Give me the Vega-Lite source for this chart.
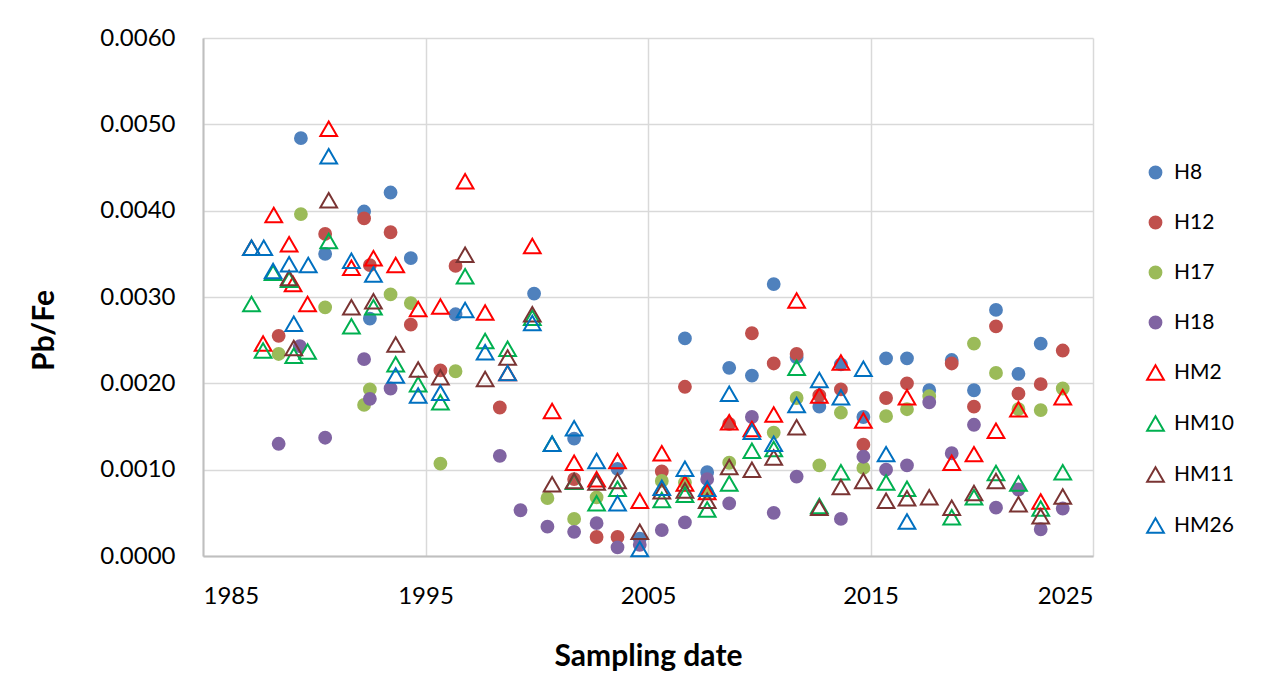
{
  "$schema": "https://vega.github.io/schema/vega-lite/v6.json",
  "width": 890,
  "height": 518,
  "autosize": {"type": "none"},
  "padding": {"left": 203, "top": 38, "right": 173, "bottom": 130},
  "background": "white",
  "config": {"font": "Lato", "view": {"stroke": null}},
  "datasets": {
    "pts": [
      {"series":"H8","date":1989.4,"value":0.00484},{"series":"H8","date":1990.49,"value":0.0035},{"series":"H8","date":1992.24,"value":0.00399},{"series":"H8","date":1992.5,"value":0.00275},{"series":"H8","date":1993.43,"value":0.00421},{"series":"H8","date":1994.34,"value":0.00345},{"series":"H8","date":1996.35,"value":0.0028},{"series":"H8","date":1999.88,"value":0.00304},{"series":"H8","date":2001.68,"value":0.00136},{"series":"H8","date":2003.63,"value":0.00101},{"series":"H8","date":2004.63,"value":0.0002},{"series":"H8","date":2006.66,"value":0.00252},{"series":"H8","date":2007.66,"value":0.00097},{"series":"H8","date":2008.65,"value":0.00218},{"series":"H8","date":2009.67,"value":0.00209},{"series":"H8","date":2010.65,"value":0.00315},{"series":"H8","date":2011.68,"value":0.0023},{"series":"H8","date":2012.7,"value":0.00173},{"series":"H8","date":2013.67,"value":0.00222},{"series":"H8","date":2014.68,"value":0.00161},{"series":"H8","date":2015.7,"value":0.00229},{"series":"H8","date":2016.64,"value":0.00229},{"series":"H8","date":2017.64,"value":0.00192},{"series":"H8","date":2018.65,"value":0.00227},{"series":"H8","date":2019.65,"value":0.00192},{"series":"H8","date":2020.64,"value":0.00285},{"series":"H8","date":2021.65,"value":0.00211},{"series":"H8","date":2022.65,"value":0.00246},
      {"series":"H12","date":1988.4,"value":0.00255},{"series":"H12","date":1990.49,"value":0.00373},{"series":"H12","date":1992.24,"value":0.00391},{"series":"H12","date":1992.5,"value":0.00337},{"series":"H12","date":1993.43,"value":0.00375},{"series":"H12","date":1994.34,"value":0.00268},{"series":"H12","date":1995.67,"value":0.00215},{"series":"H12","date":1996.35,"value":0.00336},{"series":"H12","date":1998.34,"value":0.00172},{"series":"H12","date":2001.68,"value":0.00089},{"series":"H12","date":2002.69,"value":0.00022},{"series":"H12","date":2003.63,"value":0.00022},{"series":"H12","date":2005.62,"value":0.00098},{"series":"H12","date":2006.66,"value":0.00196},{"series":"H12","date":2008.65,"value":0.00153},{"series":"H12","date":2009.67,"value":0.00258},{"series":"H12","date":2010.65,"value":0.00223},{"series":"H12","date":2011.68,"value":0.00234},{"series":"H12","date":2012.7,"value":0.00186},{"series":"H12","date":2013.67,"value":0.00193},{"series":"H12","date":2014.68,"value":0.00129},{"series":"H12","date":2015.7,"value":0.00183},{"series":"H12","date":2016.64,"value":0.002},{"series":"H12","date":2018.65,"value":0.00223},{"series":"H12","date":2019.65,"value":0.00173},{"series":"H12","date":2020.64,"value":0.00266},{"series":"H12","date":2021.65,"value":0.00188},{"series":"H12","date":2022.65,"value":0.00199},{"series":"H12","date":2023.64,"value":0.00238},
      {"series":"H17","date":1988.4,"value":0.00234},{"series":"H17","date":1989.4,"value":0.00396},{"series":"H17","date":1990.49,"value":0.00288},{"series":"H17","date":1992.24,"value":0.00175},{"series":"H17","date":1992.5,"value":0.00193},{"series":"H17","date":1993.43,"value":0.00303},{"series":"H17","date":1994.34,"value":0.00293},{"series":"H17","date":1995.67,"value":0.00107},{"series":"H17","date":1996.35,"value":0.00214},{"series":"H17","date":2000.48,"value":0.00067},{"series":"H17","date":2001.68,"value":0.00043},{"series":"H17","date":2002.69,"value":0.00068},{"series":"H17","date":2005.62,"value":0.00087},{"series":"H17","date":2006.66,"value":0.00085},{"series":"H17","date":2007.66,"value":0.00074},{"series":"H17","date":2008.65,"value":0.00108},{"series":"H17","date":2010.65,"value":0.00143},{"series":"H17","date":2011.68,"value":0.00183},{"series":"H17","date":2012.7,"value":0.00105},{"series":"H17","date":2013.67,"value":0.00166},{"series":"H17","date":2014.68,"value":0.00102},{"series":"H17","date":2015.7,"value":0.00162},{"series":"H17","date":2016.64,"value":0.0017},{"series":"H17","date":2017.64,"value":0.00185},{"series":"H17","date":2019.65,"value":0.00246},{"series":"H17","date":2020.64,"value":0.00212},{"series":"H17","date":2021.65,"value":0.0017},{"series":"H17","date":2022.65,"value":0.00169},{"series":"H17","date":2023.64,"value":0.00194},
      {"series":"H18","date":1988.4,"value":0.0013},{"series":"H18","date":1989.35,"value":0.00243},{"series":"H18","date":1990.49,"value":0.00137},{"series":"H18","date":1992.24,"value":0.00228},{"series":"H18","date":1992.5,"value":0.00182},{"series":"H18","date":1993.43,"value":0.00194},{"series":"H18","date":1998.34,"value":0.00116},{"series":"H18","date":1999.27,"value":0.00053},{"series":"H18","date":2000.48,"value":0.00034},{"series":"H18","date":2001.68,"value":0.00028},{"series":"H18","date":2002.69,"value":0.00038},{"series":"H18","date":2003.63,"value":0.0001},{"series":"H18","date":2004.63,"value":0.00013},{"series":"H18","date":2005.62,"value":0.0003},{"series":"H18","date":2006.66,"value":0.00039},{"series":"H18","date":2007.66,"value":0.00089},{"series":"H18","date":2008.65,"value":0.00061},{"series":"H18","date":2009.67,"value":0.00161},{"series":"H18","date":2010.65,"value":0.0005},{"series":"H18","date":2011.68,"value":0.00092},{"series":"H18","date":2013.67,"value":0.00043},{"series":"H18","date":2014.68,"value":0.00115},{"series":"H18","date":2015.7,"value":0.001},{"series":"H18","date":2016.64,"value":0.00105},{"series":"H18","date":2017.64,"value":0.00178},{"series":"H18","date":2018.65,"value":0.00119},{"series":"H18","date":2019.65,"value":0.00152},{"series":"H18","date":2020.64,"value":0.00056},{"series":"H18","date":2021.65,"value":0.00077},{"series":"H18","date":2022.65,"value":0.00031},{"series":"H18","date":2023.64,"value":0.00055},
      {"series":"HM2","date":1987.7,"value":0.00246},{"series":"HM2","date":1988.18,"value":0.00395},{"series":"HM2","date":1988.87,"value":0.00361},{"series":"HM2","date":1989.05,"value":0.00315},{"series":"HM2","date":1989.7,"value":0.00292},{"series":"HM2","date":1990.65,"value":0.00495},{"series":"HM2","date":1991.67,"value":0.00334},{"series":"HM2","date":1992.66,"value":0.00345},{"series":"HM2","date":1993.66,"value":0.00337},{"series":"HM2","date":1994.67,"value":0.00286},{"series":"HM2","date":1995.67,"value":0.00289},{"series":"HM2","date":1996.78,"value":0.00434},{"series":"HM2","date":1997.68,"value":0.00282},{"series":"HM2","date":1998.69,"value":0.00212},{"series":"HM2","date":1999.8,"value":0.00359},{"series":"HM2","date":2000.69,"value":0.00168},{"series":"HM2","date":2001.68,"value":0.00108},{"series":"HM2","date":2002.69,"value":0.00089},{"series":"HM2","date":2003.63,"value":0.0011},{"series":"HM2","date":2004.63,"value":0.00064},{"series":"HM2","date":2005.62,"value":0.00119},{"series":"HM2","date":2006.66,"value":0.00084},{"series":"HM2","date":2007.66,"value":0.00074},{"series":"HM2","date":2008.65,"value":0.00155},{"series":"HM2","date":2009.67,"value":0.00147},{"series":"HM2","date":2010.65,"value":0.00164},{"series":"HM2","date":2011.68,"value":0.00296},{"series":"HM2","date":2012.7,"value":0.00186},{"series":"HM2","date":2013.67,"value":0.00224},{"series":"HM2","date":2014.68,"value":0.00157},{"series":"HM2","date":2016.64,"value":0.00184},{"series":"HM2","date":2018.65,"value":0.00108},{"series":"HM2","date":2019.65,"value":0.00118},{"series":"HM2","date":2020.64,"value":0.00145},{"series":"HM2","date":2021.65,"value":0.0017},{"series":"HM2","date":2022.65,"value":0.00063},{"series":"HM2","date":2023.64,"value":0.00184},
      {"series":"HM10","date":1987.18,"value":0.00292},{"series":"HM10","date":1987.7,"value":0.00238},{"series":"HM10","date":1988.15,"value":0.00328},{"series":"HM10","date":1988.87,"value":0.0032},{"series":"HM10","date":1989.08,"value":0.00232},{"series":"HM10","date":1989.7,"value":0.00237},{"series":"HM10","date":1990.65,"value":0.00365},{"series":"HM10","date":1991.67,"value":0.00266},{"series":"HM10","date":1992.66,"value":0.00288},{"series":"HM10","date":1993.66,"value":0.00222},{"series":"HM10","date":1994.67,"value":0.00199},{"series":"HM10","date":1995.67,"value":0.00178},{"series":"HM10","date":1996.78,"value":0.00324},{"series":"HM10","date":1997.68,"value":0.00249},{"series":"HM10","date":1998.69,"value":0.0024},{"series":"HM10","date":1999.8,"value":0.00276},{"series":"HM10","date":2000.69,"value":0.0013},{"series":"HM10","date":2001.68,"value":0.00086},{"series":"HM10","date":2002.69,"value":0.00061},{"series":"HM10","date":2003.63,"value":0.00078},{"series":"HM10","date":2005.62,"value":0.00065},{"series":"HM10","date":2006.66,"value":0.00071},{"series":"HM10","date":2007.66,"value":0.00054},{"series":"HM10","date":2008.65,"value":0.00084},{"series":"HM10","date":2009.67,"value":0.00122},{"series":"HM10","date":2010.65,"value":0.00124},{"series":"HM10","date":2011.68,"value":0.00218},{"series":"HM10","date":2012.7,"value":0.00058},{"series":"HM10","date":2013.67,"value":0.00097},{"series":"HM10","date":2015.7,"value":0.00085},{"series":"HM10","date":2016.64,"value":0.00078},{"series":"HM10","date":2018.65,"value":0.00045},{"series":"HM10","date":2019.65,"value":0.00068},{"series":"HM10","date":2020.64,"value":0.00096},{"series":"HM10","date":2021.65,"value":0.00084},{"series":"HM10","date":2022.65,"value":0.00055},{"series":"HM10","date":2023.64,"value":0.00097},
      {"series":"HM11","date":1987.18,"value":0.00357},{"series":"HM11","date":1988.87,"value":0.00322},{"series":"HM11","date":1989.08,"value":0.00241},{"series":"HM11","date":1990.65,"value":0.00412},{"series":"HM11","date":1991.67,"value":0.00288},{"series":"HM11","date":1992.66,"value":0.00295},{"series":"HM11","date":1993.66,"value":0.00245},{"series":"HM11","date":1994.67,"value":0.00216},{"series":"HM11","date":1995.67,"value":0.00207},{"series":"HM11","date":1996.78,"value":0.00349},{"series":"HM11","date":1997.68,"value":0.00205},{"series":"HM11","date":1998.69,"value":0.0023},{"series":"HM11","date":1999.8,"value":0.0028},{"series":"HM11","date":2000.69,"value":0.00083},{"series":"HM11","date":2001.68,"value":0.00087},{"series":"HM11","date":2002.69,"value":0.00085},{"series":"HM11","date":2003.63,"value":0.00087},{"series":"HM11","date":2004.63,"value":0.00028},{"series":"HM11","date":2005.62,"value":0.00075},{"series":"HM11","date":2006.66,"value":0.00076},{"series":"HM11","date":2007.66,"value":0.00064},{"series":"HM11","date":2008.65,"value":0.00103},{"series":"HM11","date":2009.67,"value":0.001},{"series":"HM11","date":2010.65,"value":0.00114},{"series":"HM11","date":2011.68,"value":0.00149},{"series":"HM11","date":2012.7,"value":0.00056},{"series":"HM11","date":2013.67,"value":0.0008},{"series":"HM11","date":2014.68,"value":0.00087},{"series":"HM11","date":2015.7,"value":0.00064},{"series":"HM11","date":2016.64,"value":0.00067},{"series":"HM11","date":2017.64,"value":0.00068},{"series":"HM11","date":2018.65,"value":0.00056},{"series":"HM11","date":2019.65,"value":0.00073},{"series":"HM11","date":2020.64,"value":0.00087},{"series":"HM11","date":2021.65,"value":0.0006},{"series":"HM11","date":2022.65,"value":0.00046},{"series":"HM11","date":2023.64,"value":0.00069},
      {"series":"HM26","date":1987.18,"value":0.00357},{"series":"HM26","date":1987.73,"value":0.00357},{"series":"HM26","date":1988.15,"value":0.0033},{"series":"HM26","date":1988.87,"value":0.00338},{"series":"HM26","date":1989.08,"value":0.00269},{"series":"HM26","date":1989.73,"value":0.00337},{"series":"HM26","date":1990.65,"value":0.00463},{"series":"HM26","date":1991.67,"value":0.00342},{"series":"HM26","date":1992.66,"value":0.00326},{"series":"HM26","date":1993.66,"value":0.00209},{"series":"HM26","date":1994.67,"value":0.00186},{"series":"HM26","date":1995.67,"value":0.00189},{"series":"HM26","date":1996.78,"value":0.00285},{"series":"HM26","date":1997.68,"value":0.00236},{"series":"HM26","date":1998.69,"value":0.00212},{"series":"HM26","date":1999.8,"value":0.0027},{"series":"HM26","date":2000.69,"value":0.0013},{"series":"HM26","date":2001.68,"value":0.00148},{"series":"HM26","date":2002.69,"value":0.0011},{"series":"HM26","date":2003.63,"value":0.00061},{"series":"HM26","date":2004.63,"value":0.00008},{"series":"HM26","date":2005.62,"value":0.00079},{"series":"HM26","date":2006.66,"value":0.00101},{"series":"HM26","date":2007.66,"value":0.00078},{"series":"HM26","date":2008.65,"value":0.00188},{"series":"HM26","date":2009.67,"value":0.00144},{"series":"HM26","date":2010.65,"value":0.0013},{"series":"HM26","date":2011.68,"value":0.00175},{"series":"HM26","date":2012.7,"value":0.00204},{"series":"HM26","date":2013.67,"value":0.00184},{"series":"HM26","date":2014.68,"value":0.00217},{"series":"HM26","date":2015.7,"value":0.00118},{"series":"HM26","date":2016.64,"value":0.0004}
    ]
  },
  "data": {"name": "pts"},
  "mark": {"type": "point", "strokeWidth": 2, "opacity": 1},
  "encoding": {
    "x": {
      "field": "date", "type": "quantitative",
      "scale": {"domain": [1985, 2025], "nice": false, "zero": false},
      "axis": {
        "values": [1985, 1995, 2005, 2015, 2025], "format": "d",
        "title": "Sampling date", "titleFont": "Lato", "titleFontSize": 30, "titleFontWeight": "bold", "titleColor": "#000000",
        "titleBaseline": "alphabetic", "titleY": 109,
        "labelFont": "Lato", "labelFontSize": 24, "labelColor": "#000000", "labelBaseline": "alphabetic", "labelPadding": 47,
        "ticks": false, "tickSize": 0,
        "domainColor": "#BFBFBF", "domainWidth": 2,
        "grid": true, "gridColor": "#D9D9D9", "gridWidth": 1.5
      }
    },
    "y": {
      "field": "value", "type": "quantitative",
      "scale": {"domain": [0, 0.006], "nice": false},
      "axis": {
        "values": [0, 0.001, 0.002, 0.003, 0.004, 0.005, 0.006], "format": ".4f",
        "title": "Pb/Fe", "titleFont": "Lato", "titleFontSize": 30, "titleFontWeight": "bold", "titleColor": "#000000",
        "titleBaseline": "alphabetic", "titleX": -150, "titleY": 292, "titleAngle": -90,
        "labelFont": "Lato", "labelFontSize": 24, "labelColor": "#000000", "labelPadding": 28,
        "ticks": false, "tickSize": 0,
        "domainColor": "#BFBFBF", "domainWidth": 2,
        "grid": true, "gridColor": "#D9D9D9", "gridWidth": 1.5
      }
    },
    "fill": {
      "field": "series", "type": "nominal",
      "scale": {"domain": ["H8","H12","H17","H18","HM2","HM10","HM11","HM26"],
                "range": ["#4F81BD","#C0504D","#9BBB59","#8064A2","transparent","transparent","transparent","transparent"]},
      "legend": {"title": null, "orient": "none", "legendX": 942, "legendY": 124, "labelFont": "Lato", "labelFontSize": 21, "labelColor": "#000000", "rowPadding": 28, "symbolStrokeWidth": 2, "labelOffset": 8}
    },
    "stroke": {
      "field": "series", "type": "nominal",
      "scale": {"domain": ["H8","H12","H17","H18","HM2","HM10","HM11","HM26"],
                "range": ["#4F81BD","#C0504D","#9BBB59","#8064A2","#FF0000","#00B050","#7A3433","#0070C0"]},
      "legend": {"title": null, "orient": "none", "legendX": 942, "legendY": 124, "labelFont": "Lato", "labelFontSize": 21, "labelColor": "#000000", "rowPadding": 28, "symbolStrokeWidth": 2, "labelOffset": 8}
    },
    "shape": {
      "field": "series", "type": "nominal",
      "scale": {"domain": ["H8","H12","H17","H18","HM2","HM10","HM11","HM26"],
                "range": ["circle","circle","circle","circle","triangle-up","triangle-up","triangle-up","triangle-up"]},
      "legend": {"title": null, "orient": "none", "legendX": 942, "legendY": 124, "labelFont": "Lato", "labelFontSize": 21, "labelColor": "#000000", "rowPadding": 28, "symbolStrokeWidth": 2, "labelOffset": 8}
    },
    "size": {
      "field": "series", "type": "nominal",
      "scale": {"type": "ordinal", "domain": ["H8","H12","H17","H18","HM2","HM10","HM11","HM26"],
                "range": [140,140,140,140,280,280,280,280]},
      "legend": {"title": null, "orient": "none", "legendX": 942, "legendY": 124, "labelFont": "Lato", "labelFontSize": 21, "labelColor": "#000000", "rowPadding": 28, "symbolStrokeWidth": 2, "labelOffset": 8}
    }
  }
}
